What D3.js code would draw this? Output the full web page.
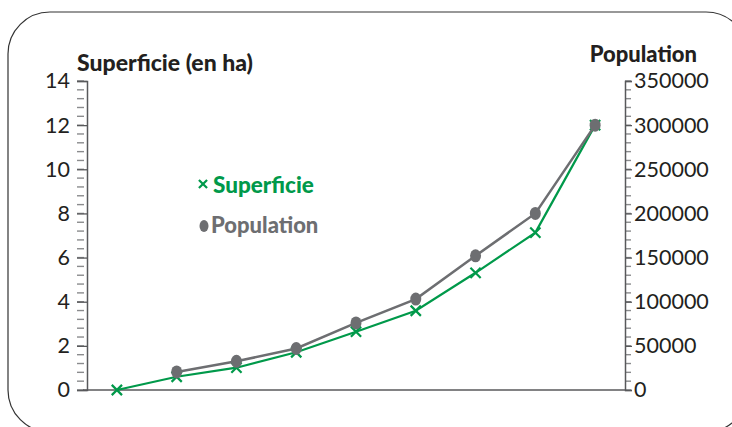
<!DOCTYPE html>
<html><head><meta charset="utf-8">
<script src="https://d3js.org/d3.v7.min.js"></script>
<style>
html,body{margin:0;padding:0;background:#fff;}
svg{display:block;font-family:Lato,"Open Sans",sans-serif;}
</style></head>
<body>
<svg id="c" width="732" height="427"></svg>
<script>
const categories = ["1","2","3","4","5","6","7","8","9"];
const superficie = [0, 0.6, 1.01, 1.71, 2.64, 3.59, 5.31, 7.13, 12.0];
const population = [null, 20500, 32500, 47000, 76000, 103000, 152000, 200000, 300000];
const leftTicks = [0,2,4,6,8,10,12,14];
const rightTicks = [0,50000,100000,150000,200000,250000,300000,350000];

const green = "#00994a", grey = "#6d6e71", axisCol = "#58595b", textCol = "#231f20";
const svg = d3.select("#c");

// frame
svg.append("rect").attr("x",8).attr("y",12).attr("width",740).attr("height",420)
  .attr("rx",42).attr("ry",42).attr("fill","none").attr("stroke","#333").attr("stroke-width",1.2);

const x0 = 87, x1 = 625, yTop = 81, yBot = 390;
const x = d3.scaleBand().domain(categories).range([x0,x1]).padding(0);
const cx = d => x(d) + x.bandwidth()/2;
const yL = d3.scaleLinear().domain([0,14]).range([yBot,yTop]);
const yR = d3.scaleLinear().domain([0,350000]).range([yBot,yTop]);

// minor ticks
const gL = svg.append("g");
gL.selectAll("line.m").data(d3.range(0,14.001,0.4)).join("line")
  .attr("x1",77).attr("x2",84).attr("y1",d=>yL(d)).attr("y2",d=>yL(d))
  .attr("stroke","#8a8b8d").attr("stroke-width",1.4);
const gR = svg.append("g");
gR.selectAll("line.m").data(d3.range(0,350001,10000)).join("line")
  .attr("x1",x1).attr("x2",x1+6).attr("y1",d=>yR(d)).attr("y2",d=>yR(d))
  .attr("stroke","#8a8b8d").attr("stroke-width",1.4);

// axes
const axL = svg.append("g").attr("transform",`translate(${x0},0)`)
  .call(d3.axisLeft(yL).tickValues(leftTicks).tickSize(10).tickPadding(7).tickFormat(d3.format("d")));
const axR = svg.append("g").attr("transform",`translate(${x1},0)`)
  .call(d3.axisRight(yR).tickValues(rightTicks).tickSize(7).tickPadding(2).tickFormat(d3.format("d")));
[axL,axR].forEach(a=>{
  a.select(".domain").attr("stroke",axisCol).attr("stroke-width",1.5);
  a.selectAll(".tick line").attr("stroke",axisCol).attr("stroke-width",1.3);
  a.selectAll("text").attr("fill",textCol).attr("font-size",21.5).attr("font-family","Lato,sans-serif");
});
// x axis line
svg.append("line").attr("x1",83).attr("x2",x1).attr("y1",yBot).attr("y2",yBot)
  .attr("stroke",axisCol).attr("stroke-width",1.5);

// titles
svg.append("text").attr("x",77).attr("y",71).attr("font-weight",900).attr("font-size",23)
  .attr("fill",textCol).text("Superficie (en ha)");
svg.append("text").attr("x",697).attr("y",62).attr("text-anchor","end").attr("font-weight",900).attr("font-size",22)
  .attr("fill",textCol).text("Population");

// superficie line
const lineS = d3.line().x((d,i)=>cx(categories[i])).y(d=>yL(d));
svg.append("path").datum(superficie).attr("d",lineS).attr("fill","none")
  .attr("stroke",green).attr("stroke-width",2.2);
const cross = d3.symbol().type(d3.symbolX).size(70);
svg.selectAll("path.sx").data(superficie).join("path").attr("class","sx")
  .attr("d",cross).attr("transform",(d,i)=>`translate(${cx(categories[i])},${yL(d)})`)
  .attr("fill","none").attr("stroke",green).attr("stroke-width",2.2);

// population line
const popPts = population.map((v,i)=>({c:categories[i],v})).filter(d=>d.v!==null);
const lineP = d3.line().x(d=>cx(d.c)).y(d=>yR(d.v));
svg.append("path").datum(popPts).attr("d",lineP).attr("fill","none")
  .attr("stroke",grey).attr("stroke-width",2.5);
svg.selectAll("ellipse.pd").data(popPts).join("ellipse").attr("class","pd")
  .attr("cx",d=>cx(d.c)).attr("cy",d=>yR(d.v)).attr("rx",5.5).attr("ry",6.5).attr("fill",grey);

// legend
const lg = svg.append("g");
lg.append("path").attr("d",d3.symbol().type(d3.symbolX).size(45)).attr("transform","translate(203,184)")
  .attr("fill","none").attr("stroke",green).attr("stroke-width",2.2);
lg.append("text").attr("x",213).attr("y",193).attr("font-weight",900).attr("font-size",22.5)
  .attr("fill",green).text("Superficie");
lg.append("ellipse").attr("cx",204).attr("cy",226).attr("rx",4.5).attr("ry",6).attr("fill",grey);
lg.append("text").attr("x",211).attr("y",233).attr("font-weight",900).attr("font-size",22)
  .attr("fill",grey).text("Population");
</script>
</body></html>
